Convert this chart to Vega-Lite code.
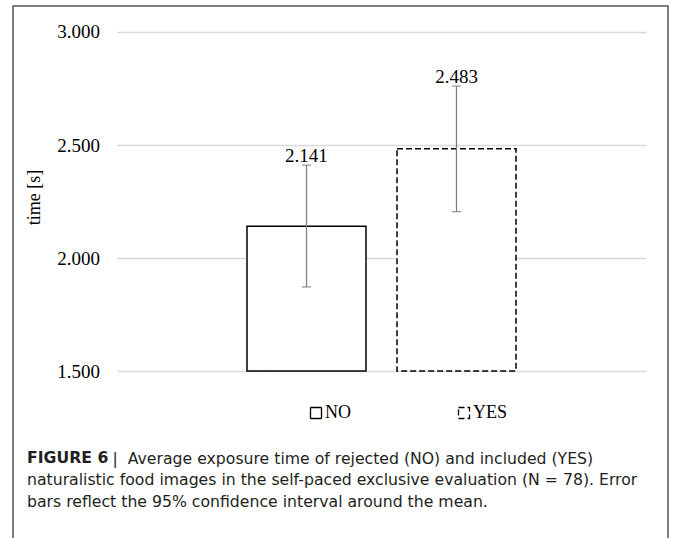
{
  "$schema": "https://vega.github.io/schema/vega-lite/v6.json",
  "autosize": {"type": "none"},
  "padding": {"left": 13, "top": 6, "right": 7, "bottom": -20},
  "width": 655,
  "height": 552,
  "background": "white",
  "config": {
    "view": {"stroke": "#555555", "strokeWidth": 1.5},
    "font": "Liberation Serif"
  },
  "title": {
    "text": "FIGURE 6",
    "subtitle": [
      "naturalistic food images in the self-paced exclusive evaluation (N = 78). Error",
      "bars reflect the 95% confidence interval around the mean."
    ],
    "orient": "bottom",
    "anchor": "start",
    "frame": "group",
    "offset": -107,
    "dx": 14,
    "baseline": "top",
    "font": "DejaVu Sans",
    "fontSize": 15.7,
    "fontWeight": "bold",
    "color": "#231f20",
    "subtitleFont": "DejaVu Sans",
    "subtitleFontSize": 15.7,
    "subtitleFontWeight": "normal",
    "subtitleColor": "#231f20",
    "subtitlePadding": 6.3,
    "subtitleLineHeight": 22
  },
  "data": {
    "values": [
      {"cat": "NO", "mean": 2.141, "lo": 1.872, "hi": 2.411},
      {"cat": "YES", "mean": 2.483, "lo": 2.205, "hi": 2.761}
    ]
  },
  "encoding": {
    "x": {
      "field": "cat",
      "type": "nominal",
      "scale": {"domain": ["NO", "YES"], "range": [218.5, 518.5], "paddingInner": 0.20667, "paddingOuter": 0.10333},
      "axis": {
        "labels": false,
        "ticks": false,
        "domain": false,
        "grid": false,
        "title": "|\u00a0 Average exposure time of rejected (NO) and included (YES)",
        "titleX": 99,
        "titleY": -95,
        "titleAlign": "left",
        "titleAnchor": "start",
        "titleBaseline": "alphabetic",
        "titleAngle": 0,
        "titleFont": "DejaVu Sans",
        "titleFontSize": 15.7,
        "titleFontWeight": "normal",
        "titleColor": "#231f20"
      }
    }
  },
  "layer": [
    {
      "mark": {"type": "bar", "fill": "white", "strokeWidth": 1.5},
      "encoding": {
        "y": {
          "field": "mean",
          "type": "quantitative",
          "title": "time [s]",
          "scale": {"domain": [0.6726, 3.11504], "nice": false, "zero": false},
          "axis": {
            "orient": "left",
            "offset": -633,
            "tickSize": 529,
            "tickColor": "#d9d9d9",
            "tickWidth": 1.5,
            "domain": false,
            "grid": false,
            "values": [1.5, 2, 2.5, 3],
            "format": ".3f",
            "labelPadding": 17.5,
            "labelFont": "Liberation Serif",
            "labelFontSize": 19,
            "labelColor": "#000000",
            "title": "time [s]",
            "titleFont": "Liberation Serif",
            "titleFontSize": 18,
            "titleFontWeight": "normal",
            "titleColor": "#000000",
            "titleX": -603,
            "titleY": 191,
            "titleBaseline": "bottom",
            "titleAngle": -90,
            "minExtent": 0,
            "maxExtent": 1000
          }
        },
        "y2": {"datum": 1.5},
        "stroke": {
          "field": "cat",
          "type": "nominal",
          "scale": {"domain": ["NO", "YES"], "range": ["#000000", "#000000"]},
          "legend": {
            "orient": "none",
            "legendX": 294,
            "legendY": 398,
            "direction": "horizontal",
            "title": null,
            "symbolType": "square",
            "symbolSize": 121,
            "symbolFillColor": "#ffffff",
            "symbolStrokeColor": "#000000",
            "symbolStrokeWidth": 1.3,
            "symbolOpacity": 1,
            "labelFont": "Liberation Serif",
            "labelFontSize": 18,
            "labelColor": "#000000",
            "labelOffset": 0,
            "columnPadding": 104,
            "padding": 0
          }
        },
        "strokeDash": {
          "field": "cat",
          "type": "nominal",
          "scale": {"domain": ["NO", "YES"], "range": [[1, 0], [6, 3]]}
        }
      }
    },
    {
      "mark": {"type": "rule", "color": "#808080", "strokeWidth": 1.3},
      "encoding": {
        "y": {"field": "lo", "type": "quantitative", "title": "time [s]"},
        "y2": {"field": "hi"}
      }
    },
    {
      "mark": {"type": "tick", "color": "#707070", "size": 9, "thickness": 1.3},
      "encoding": {
        "y": {"field": "hi", "type": "quantitative", "title": "time [s]"}
      }
    },
    {
      "mark": {"type": "tick", "color": "#707070", "size": 9, "thickness": 1.3},
      "encoding": {
        "y": {"field": "lo", "type": "quantitative", "title": "time [s]"}
      }
    },
    {
      "mark": {"type": "text", "font": "Liberation Serif", "fontSize": 19, "color": "#000000", "baseline": "alphabetic", "dy": -3},
      "encoding": {
        "y": {"field": "hi", "type": "quantitative", "title": "time [s]"},
        "text": {"field": "mean", "type": "quantitative", "format": ".3f"}
      }
    }
  ]
}
